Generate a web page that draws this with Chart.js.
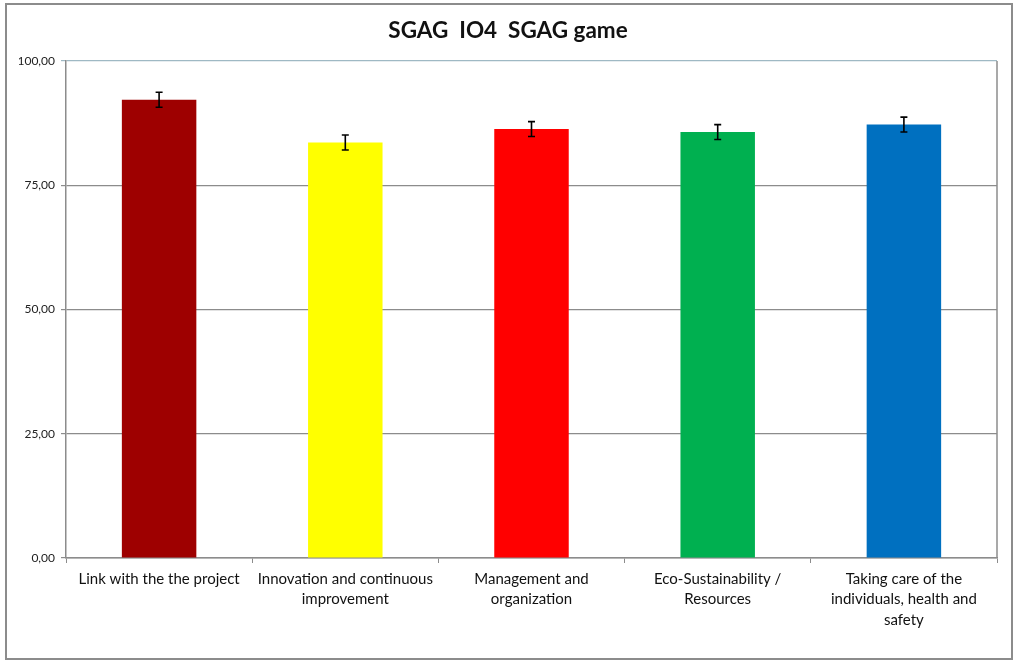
<!DOCTYPE html>
<html>
<head>
<meta charset="utf-8">
<script src="https://cdn.jsdelivr.net/npm/chart.js@4"></script>
<style>
  html, body { margin: 0; padding: 0; background: #fff; }
  #wrap { position: relative; width: 1023px; height: 667px; }
  #frame { position: absolute; left: 5px; top: 3px; width: 1004px; height: 653px; border: 2px solid #8c8c8c; pointer-events: none; }
  canvas { display: block; }
</style>
</head>
<body>
<div id="wrap">
  <canvas id="c" width="1023" height="667"></canvas>
  <div id="frame"></div>
</div>
<script>
const categories = [
  "Link with the the project",
  ["Innovation and continuous", "improvement"],
  ["Management and", "organization"],
  ["Eco-Sustainability /", "Resources"],
  ["Taking care of the", "individuals, health and", "safety"]
];
const values = [92.2, 83.6, 86.3, 85.7, 87.2];
const errors = [1.5, 1.5, 1.5, 1.5, 1.5];
const barColors = ["#9E0000", "#FFFF00", "#FF0000", "#00B050", "#0070C0"];
const yTicks = [0, 25, 50, 75, 100];

const errorBarPlugin = {
  id: 'errorBars',
  afterDatasetsDraw(chart) {
    const ctx = chart.ctx;
    const meta = chart.getDatasetMeta(0);
    const y = chart.scales.y;
    ctx.save();
    ctx.strokeStyle = '#000';
    ctx.lineWidth = 1.6;
    meta.data.forEach((bar, i) => {
      const x = bar.x;
      const top = y.getPixelForValue(values[i] + errors[i]);
      const bot = y.getPixelForValue(values[i] - errors[i]);
      ctx.beginPath();
      ctx.moveTo(x, top); ctx.lineTo(x, bot);
      ctx.moveTo(x - 3.5, top); ctx.lineTo(x + 3.5, top);
      ctx.moveTo(x - 3.5, bot); ctx.lineTo(x + 3.5, bot);
      ctx.stroke();
    });
    ctx.restore();
  }
};

const rightBorderPlugin = {
  id: 'rightBorder',
  beforeDatasetsDraw(chart) {
    const a = chart.chartArea;
    const ctx = chart.ctx;
    ctx.save();
    ctx.strokeStyle = '#8c8c8c';
    ctx.lineWidth = 1.5;
    ctx.beginPath();
    ctx.moveTo(a.right, a.top);
    ctx.lineTo(a.right, a.bottom);
    ctx.stroke();
    ctx.restore();
  }
};

new Chart(document.getElementById('c'), {
  type: 'bar',
  data: {
    labels: categories,
    datasets: [{
      data: values,
      backgroundColor: barColors,
      borderWidth: 0,
      barPercentage: 0.4,
      categoryPercentage: 1.0
    }]
  },
  options: {
    responsive: false,
    animation: false,
    devicePixelRatio: 1,
    layout: { padding: { left: 19, right: 26, top: 0, bottom: 0 } },
    plugins: {
      legend: { display: false },
      tooltip: { enabled: false },
      title: {
        display: true,
        text: 'SGAG  IO4  SGAG game',
        color: '#111',
        font: { family: 'Lato', size: 22.5, weight: 'bold' },
        padding: { top: 17, bottom: 17 }
      }
    },
    scales: {
      x: {
        afterFit(s) { s.height = 109; },
        grid: { offset: true, drawOnChartArea: false, drawTicks: true, tickLength: 5, color: '#8c8c8c' },
        border: { display: true, color: '#8c8c8c', width: 1.5 },
        ticks: {
          color: '#111',
          padding: 6,
          maxRotation: 0,
          autoSkip: false,
          font: { family: 'Lato', size: 15, lineHeight: 1.36 }
        }
      },
      y: {
        min: 0,
        max: 100,
        afterFit(s) { s.width = 47; },
        afterBuildTicks(s) { s.ticks = yTicks.map(v => ({ value: v })); },
        grid: {
          color: (c) => (c.tick && c.tick.value === 100) ? '#9fb9c4' : '#8c8c8c',
          lineWidth: 1.2,
          tickLength: 5
        },
        border: { display: true, color: '#8c8c8c', width: 1.5 },
        ticks: {
          color: '#222',
          padding: 6,
          font: { family: 'Lato', size: 12 },
          callback: (v) => Number(v).toFixed(2).replace('.', ',')
        }
      }
    }
  },
  plugins: [errorBarPlugin, rightBorderPlugin]
});
</script>
</body>
</html>
